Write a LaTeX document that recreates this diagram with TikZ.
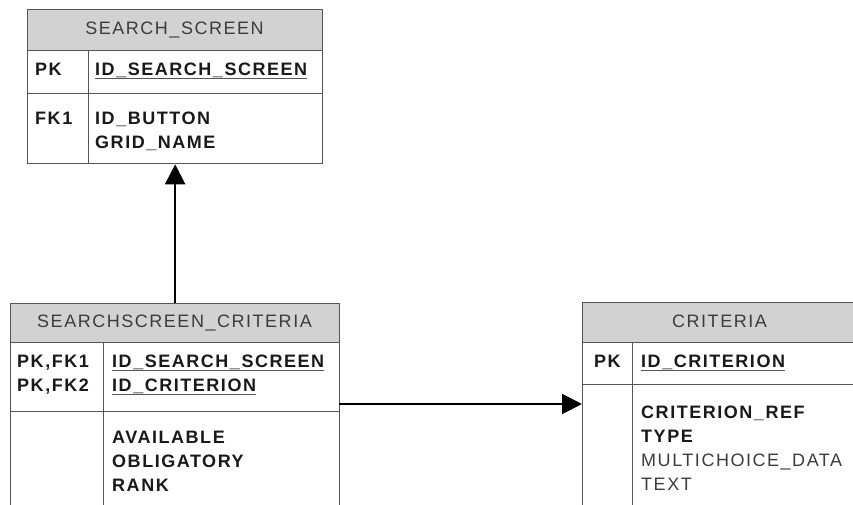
\documentclass[tikz,border=0pt]{standalone}
\usepackage{fontspec}
\setmainfont{Liberation Sans}[LetterSpace=8.5]
\usetikzlibrary{positioning,arrows.meta}
\definecolor{hdrgray}{RGB}{210,210,210}
\definecolor{framegray}{RGB}{85,85,85}
\definecolor{titlegray}{RGB}{60,60,60}
\newcommand{\erfont}{\fontsize{18}{24}\selectfont}

\begin{document}
\begin{tikzpicture}[x=1pt, y=-1pt,
    >={Triangle[length=20pt, width=20pt]},
    cell/.style={draw=framegray, line width=1.3pt, anchor=north west, inner sep=0pt},
    hdr/.style={cell, fill=hdrgray},
    title/.style={anchor=base, inner sep=0pt, text=titlegray, font=\erfont},
    key/.style={anchor=base west, inner sep=0pt, align=left, text=black!90, font=\erfont\bfseries},
    fld/.style={anchor=base west, inner sep=0pt, align=left, text=black!90, font=\erfont\bfseries},
    plain/.style={anchor=base west, inner sep=0pt, align=left, text=titlegray, font=\erfont},
    uline/.style={draw=framegray, line width=1pt},
    link/.style={->, line width=2pt}
  ]
  \useasboundingbox (0,0) rectangle (853,505);
  \clip (0,0) rectangle (853,505);

  % SEARCH_SCREEN
  \node[hdr, minimum width=295pt, minimum height=41pt] (scrhead) at (27,9) {};
  \node[cell, minimum width=61pt, minimum height=43pt] (scrpk) at (27,50) {};
  \node[cell, minimum width=234pt, minimum height=43pt] (scrpkf) at (88,50) {};
  \node[cell, minimum width=61pt, minimum height=70pt] (scrfk) at (27,93) {};
  \node[cell, minimum width=234pt, minimum height=70pt] (scrfkf) at (88,93) {};
  \node[title] (scrtitle) at (174.5,35) {SEARCH\_SCREEN};
  \node[key] (scrpkt) at (35,76) {PK};
  \node[fld] (scrid) at (95,76) {ID\_SEARCH\_SCREEN};
  \draw[uline] ([yshift=-3pt]scrid.base west) -- ([yshift=-3pt]scrid.base east);
  \node[key] (scrfkt) at (35,125) {FK1};
  % multi-line nodes sit on their last baseline
  \node[fld] (scrcols) at (95,149) {ID\_BUTTON\\GRID\_NAME};

  % SEARCHSCREEN_CRITERIA
  \node[hdr, minimum width=329pt, minimum height=39pt] (schead) at (10,303) {};
  \node[cell, minimum width=93pt, minimum height=69pt] (scpk) at (10,342) {};
  \node[cell, minimum width=236pt, minimum height=69pt] (scpkf) at (103,342) {};
  \node[cell, minimum width=93pt, minimum height=130pt] (scat) at (10,411) {};
  \node[cell, minimum width=236pt, minimum height=130pt] (scatf) at (103,411) {};
  \node[title] (sctitle) at (174.5,327.5) {SEARCHSCREEN\_CRITERIA};
  \node[key] (scpkt) at (17,391) {PK,FK1\\PK,FK2};
  \node[fld] (scid1) at (112,367) {ID\_SEARCH\_SCREEN};
  \node[fld] (scid2) at (112,391) {ID\_CRITERION};
  \draw[uline] ([yshift=-3pt]scid1.base west) -- ([yshift=-3pt]scid1.base east);
  \draw[uline] ([yshift=-3pt]scid2.base west) -- ([yshift=-3pt]scid2.base east);
  \node[fld] (sccols) at (112,491) {AVAILABLE\\OBLIGATORY\\RANK};

  % CRITERIA
  \node[hdr, minimum width=300pt, minimum height=40pt] (crhead) at (582,302) {};
  \node[cell, minimum width=50pt, minimum height=42pt] (crpk) at (582,342) {};
  \node[cell, minimum width=250pt, minimum height=42pt] (crpkf) at (632,342) {};
  \node[cell, minimum width=50pt, minimum height=150pt] (crat) at (582,384) {};
  \node[cell, minimum width=250pt, minimum height=150pt] (cratf) at (632,384) {};
  \node[title] (crtitle) at (719.5,327.5) {CRITERIA};
  \node[key] (crpkt) at (594,367) {PK};
  \node[fld] (crid) at (641,367) {ID\_CRITERION};
  \draw[uline] ([yshift=-3pt]crid.base west) -- ([yshift=-3pt]crid.base east);
  \node[fld] (crcols) at (641,442) {CRITERION\_REF\\TYPE};
  \node[plain] (crcols2) at (641,490) {MULTICHOICE\_DATA\\TEXT};

  % relations
  \draw[link] (schead.north) -- (schead.north |- scrfk.south);
  \coordinate (rel) at (339,404);
  \draw[link] (rel) -- (rel -| crat.west);
\end{tikzpicture}
\end{document}
